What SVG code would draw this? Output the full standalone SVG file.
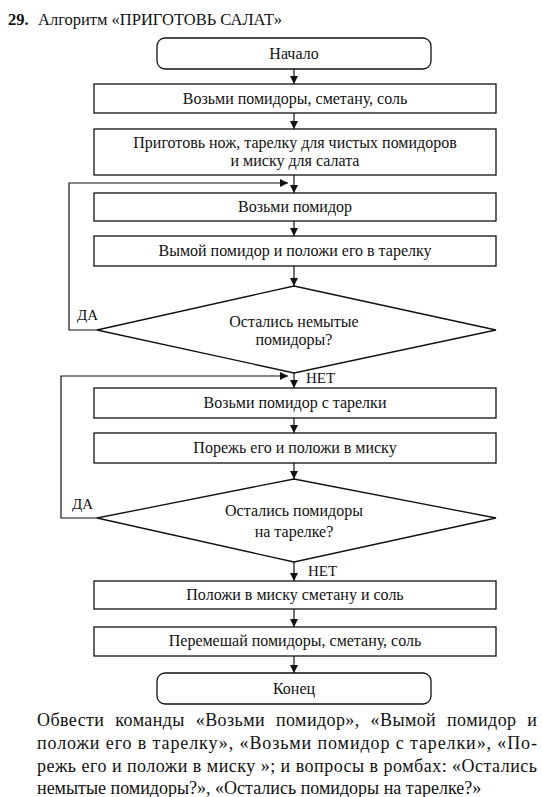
<svg xmlns="http://www.w3.org/2000/svg" width="542" height="797" viewBox="0 0 542 797">
<style>
.b{fill:#fff;stroke:#111;stroke-width:1.3}
.c{fill:none;stroke:#111;stroke-width:1.2}
</style>
<defs>
<marker id="a" viewBox="0 0 10 10" refX="10" refY="5" markerWidth="8" markerHeight="8" markerUnits="userSpaceOnUse" orient="auto">
<path d="M0,0 L10,5 L0,10 z" fill="#111"/>
</marker>
</defs>
<rect width="542" height="797" fill="#fff"/>
<g font-family="'Liberation Serif', 'Times New Roman', serif" fill="#111">
<text x="8" y="25" font-size="16.5"><tspan font-weight="bold">29.</tspan><tspan x="38">Алгоритм «ПРИГОТОВЬ САЛАТ»</tspan></text>

<g id="connectors" font-size="15">
<line class="c" x1="294" y1="69" x2="294" y2="84" marker-end="url(#a)"/>
<line class="c" x1="294" y1="113" x2="294" y2="129" marker-end="url(#a)"/>
<line class="c" x1="294" y1="175" x2="294" y2="193" marker-end="url(#a)"/>
<line class="c" x1="294" y1="221" x2="294" y2="236" marker-end="url(#a)"/>
<line class="c" x1="294" y1="266" x2="294" y2="286" marker-end="url(#a)"/>
<polyline class="c" points="97,330 69,330 69,183 288,183" marker-end="url(#a)"/>
<line class="c" x1="294" y1="373" x2="294" y2="388" marker-end="url(#a)"/>
<line class="c" x1="294" y1="418" x2="294" y2="433" marker-end="url(#a)"/>
<line class="c" x1="294" y1="463" x2="294" y2="479" marker-end="url(#a)"/>
<polyline class="c" points="97,518 61,518 61,376 288,376" marker-end="url(#a)"/>
<line class="c" x1="294" y1="562" x2="294" y2="581" marker-end="url(#a)"/>
<line class="c" x1="294" y1="609" x2="294" y2="627" marker-end="url(#a)"/>
<line class="c" x1="294" y1="656" x2="294" y2="673" marker-end="url(#a)"/>
<text x="77" y="320">ДА</text>
<text x="306" y="383">НЕТ</text>
<text x="72" y="509">ДА</text>
<text x="308" y="576">НЕТ</text>
</g>

<g font-size="16" text-anchor="middle">
<g id="start"><rect class="b" x="157" y="38" width="274" height="31" rx="8"/><text x="294" y="59">Начало</text></g>
<g id="take-all"><rect class="b" x="94" y="84" width="402" height="29"/><text x="295" y="104">Возьми помидоры, сметану, соль</text></g>
<g id="prepare"><rect class="b" x="94" y="129" width="402" height="46"/><text x="295" y="148">Приготовь нож, тарелку для чистых помидоров</text><text x="295" y="166">и миску для салата</text></g>
<g id="take-tomato"><rect class="b" x="94" y="193" width="402" height="28"/><text x="295" y="212">Возьми помидор</text></g>
<g id="wash"><rect class="b" x="94" y="236" width="402" height="30"/><text x="295" y="256">Вымой помидор и положи его в тарелку</text></g>
<g id="q1"><polygon class="b" points="294,286 496,330 294,373 97,330"/><text x="294" y="327">Остались немытые</text><text x="294" y="345">помидоры?</text></g>
<g id="take-plate"><rect class="b" x="94" y="388" width="402" height="30"/><text x="295" y="408">Возьми помидор с тарелки</text></g>
<g id="cut"><rect class="b" x="94" y="433" width="402" height="30"/><text x="295" y="453">Порежь его и положи в миску</text></g>
<g id="q2"><polygon class="b" points="294,479 496,518 294,562 97,518"/><text x="294" y="516">Остались помидоры</text><text x="294" y="537">на тарелке?</text></g>
<g id="add"><rect class="b" x="94" y="581" width="402" height="28"/><text x="295" y="600">Положи в миску сметану и соль</text></g>
<g id="mix"><rect class="b" x="94" y="627" width="402" height="29"/><text x="295" y="646">Перемешай помидоры, сметану, соль</text></g>
<g id="end"><rect class="b" x="157" y="673" width="274" height="31" rx="8"/><text x="294" y="694">Конец</text></g>
</g>

<g font-size="18">
<text x="37" y="726" textLength="500" lengthAdjust="spacing" word-spacing="6">Обвести команды «Возьми помидор», «Вымой помидор и</text>
<text x="37" y="749" textLength="500" lengthAdjust="spacing">положи его в тарелку», «Возьми помидор с тарелки», «По-</text>
<text x="37" y="772" textLength="500" lengthAdjust="spacing">режь его и положи в миску »; и вопросы в ромбах: «Остались</text>
<text x="37" y="794">немытые помидоры?», «Остались помидоры на тарелке?»</text>
</g>
</g>
</svg>
